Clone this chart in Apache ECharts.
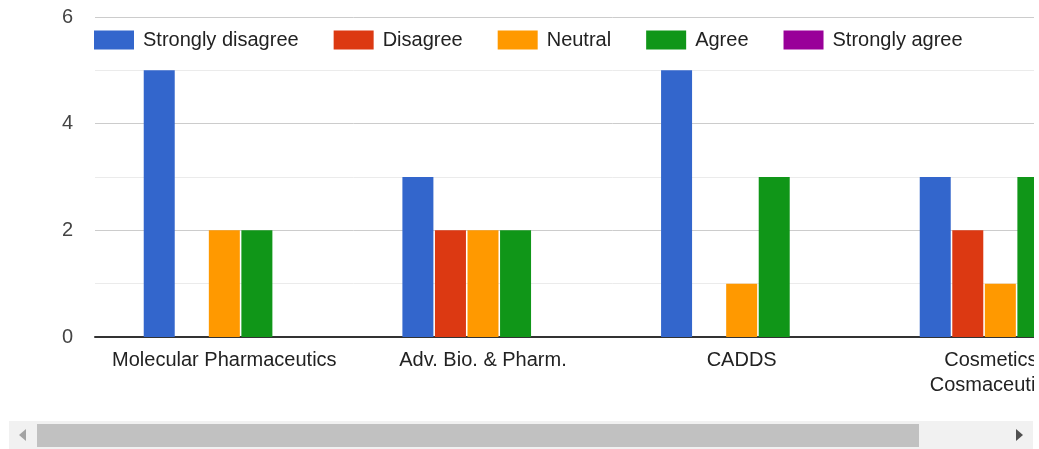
<!DOCTYPE html>
<html>
<head>
<meta charset="utf-8">
<script src="https://cdn.jsdelivr.net/npm/echarts@6/dist/echarts.min.js"></script>
<style>
  html, body { margin: 0; padding: 0; background: #fff; }
  #view { position: absolute; left: 0; top: 0; width: 1034px; height: 420px; overflow: hidden; }
  #chart { position: absolute; left: 0; top: 0; width: 1160px; height: 420px; }
  #track { position: absolute; left: 9px; top: 421px; width: 1024px; height: 28px; background: #f1f1f1; }
  #thumb { position: absolute; left: 37px; top: 424px; width: 882px; height: 23px; background: #c1c1c1; }
  #arrowL { position: absolute; left: 19px; top: 429px; width: 0; height: 0;
    border-top: 6px solid transparent; border-bottom: 6px solid transparent; border-right: 7px solid #a3a3a3; }
  #arrowR { position: absolute; left: 1016px; top: 429px; width: 0; height: 0;
    border-top: 6px solid transparent; border-bottom: 6px solid transparent; border-left: 7px solid #505050; }
</style>
</head>
<body>
<div id="view"><div id="chart"></div></div>
<div id="track"></div>
<div id="thumb"></div>
<div id="arrowL"></div>
<div id="arrowR"></div>
<script>
const categories = ['Molecular Pharmaceutics', 'Adv. Bio. & Pharm.', 'CADDS', 'Cosmetics &\nCosmaceuticals'];
const seriesNames = ['Strongly disagree', 'Disagree', 'Neutral', 'Agree', 'Strongly agree'];
const stronglyDisagree = [5, 3, 5, 3];
const disagree = [0, 2, 0, 2];
const neutral = [2, 2, 1, 1];
const agree = [2, 2, 3, 3];
const stronglyAgree = [0, 0, 0, 0];
const yTicks = [0, 2, 4, 6];

const colors = ['#3366cc', '#dc3912', '#ff9900', '#109618', '#990099'];
const values = [stronglyDisagree, disagree, neutral, agree, stronglyAgree];
const FONT = "'Liberation Sans', Arial, sans-serif";

const chart = echarts.init(document.getElementById('chart'), null, { renderer: 'canvas' });
chart.setOption({
  animation: false,
  color: colors,
  textStyle: { fontFamily: FONT },
  legend: {
    left: 94,
    top: 30,
    padding: 0,
    itemWidth: 40,
    itemHeight: 19,
    itemGap: 35,
    icon: 'rect',
    data: seriesNames,
    textStyle: { fontFamily: FONT, fontSize: 20, color: '#222', padding: [0, 0, 0, 4] },
    selectedMode: false
  },
  grid: { left: 95, width: 1034.67, top: 17, height: 320 },
  xAxis: {
    type: 'category',
    data: categories,
    axisTick: { show: false },
    axisLine: { lineStyle: { color: '#333', width: 2 } },
    axisLabel: { fontFamily: FONT, fontSize: 20, color: '#222', margin: 11, lineHeight: 25, interval: 0 }
  },
  yAxis: {
    type: 'value',
    min: yTicks[0],
    max: yTicks[yTicks.length - 1],
    interval: 2,
    axisLine: { show: false },
    axisTick: { show: false },
    axisLabel: { fontFamily: FONT, fontSize: 20, color: '#444', margin: 22 },
    splitLine: { lineStyle: { color: '#cccccc', width: 1 } },
    minorTick: { show: false, splitNumber: 2 },
    minorSplitLine: { show: true, lineStyle: { color: '#ebebeb', width: 1 } }
  },
  series: seriesNames.map((name, i) => ({
    name: name,
    type: 'bar',
    data: values[i],
    barWidth: 31,
    barGap: '5%',
    itemStyle: { color: colors[i] }
  }))
});
</script>
</body>
</html>
